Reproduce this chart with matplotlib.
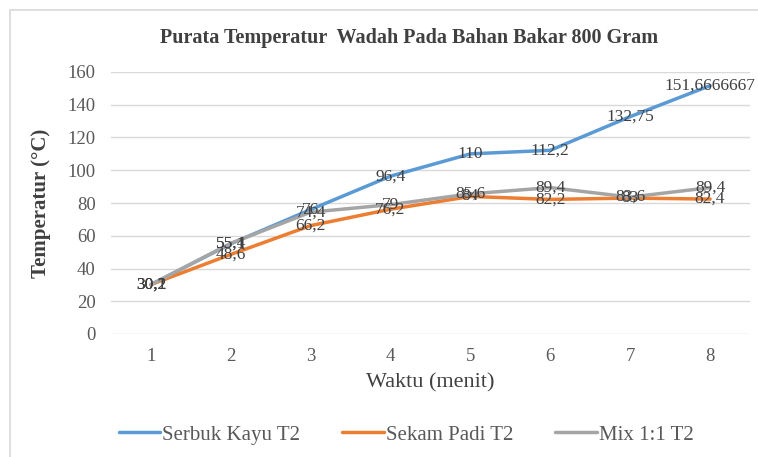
import matplotlib

matplotlib.use("Agg")
import matplotlib.pyplot as plt
from matplotlib.patches import Rectangle

waktu = [1, 2, 3, 4, 5, 6, 7, 8]
serbuk_kayu = [30.2, 55.1, 76, 96.4, 110, 112.2, 132.75, 151.6666667]
sekam_padi = [30.2, 48.6, 66.2, 76.2, 84, 82.2, 83, 82.4]
mix_11 = [30.1, 55.4, 74.4, 79, 85.6, 89.4, 83.6, 89.4]
yticks = [0, 20, 40, 60, 80, 100, 120, 140, 160]

series = [
    ("Serbuk Kayu T2", serbuk_kayu, "#5B9BD5"),
    ("Sekam Padi T2", sekam_padi, "#ED7D31"),
    ("Mix 1:1 T2", mix_11, "#A5A5A5"),
]


def fmt(v):
    s = f"{v:.7f}".rstrip("0").rstrip(".")
    return s.replace(".", ",")


plt.rcParams["font.family"] = ["Liberation Serif", "DejaVu Serif"]

fig = plt.figure(figsize=(7.58, 4.57), dpi=100)
ax = fig.add_axes([111 / 758, 1 - 334 / 457, 639 / 758, 262 / 457])

# chart border (only top/left visible in the crop)
fig.patches.append(Rectangle((10 / 758, -0.1), 1.2, 1 - 10 / 457 + 0.1,
                             transform=fig.transFigure, fill=False,
                             edgecolor="#D9D9D9", linewidth=1.2))

for name, vals, col in series:
    ax.plot(waktu, vals, color=col, lw=2.5, label=name, solid_capstyle="round")

for name, vals, col in series:
    for x, v in zip(waktu, vals):
        ax.text(x, v, fmt(v), ha="center", va="center", fontsize=12.5,
                color="#404040")

ax.set_xlim(0.5, 8.5)
ax.set_ylim(0, 160)
ax.set_yticks(yticks)
ax.set_xticks(waktu)
ax.grid(axis="y", color="#D9D9D9", lw=1)
ax.set_axisbelow(True)
for sp in ax.spines.values():
    sp.set_visible(False)
ax.tick_params(length=0, labelsize=13.5, colors="#595959", pad=11)
ax.tick_params(axis="x", pad=10)

ax.set_ylabel("Temperatur (°C)", fontsize=15, fontweight="bold",
              color="#404040", labelpad=12)
ax.set_xlabel("Waktu (menit)", fontsize=16, color="#404040", labelpad=6)
fig.text(409 / 758, 1 - 38 / 457, "Purata Temperatur  Wadah Pada Bahan Bakar 800 Gram",
         ha="center", va="center", fontsize=14.5, fontweight="bold",
         color="#404040")

fig.legend(loc="center", bbox_to_anchor=(406 / 758, 1 - 435 / 457), ncol=3,
           frameon=False, fontsize=15, labelcolor="#595959", handlelength=2.0,
           handletextpad=0.1, columnspacing=2.0)

fig.savefig("out.png", dpi=100)
